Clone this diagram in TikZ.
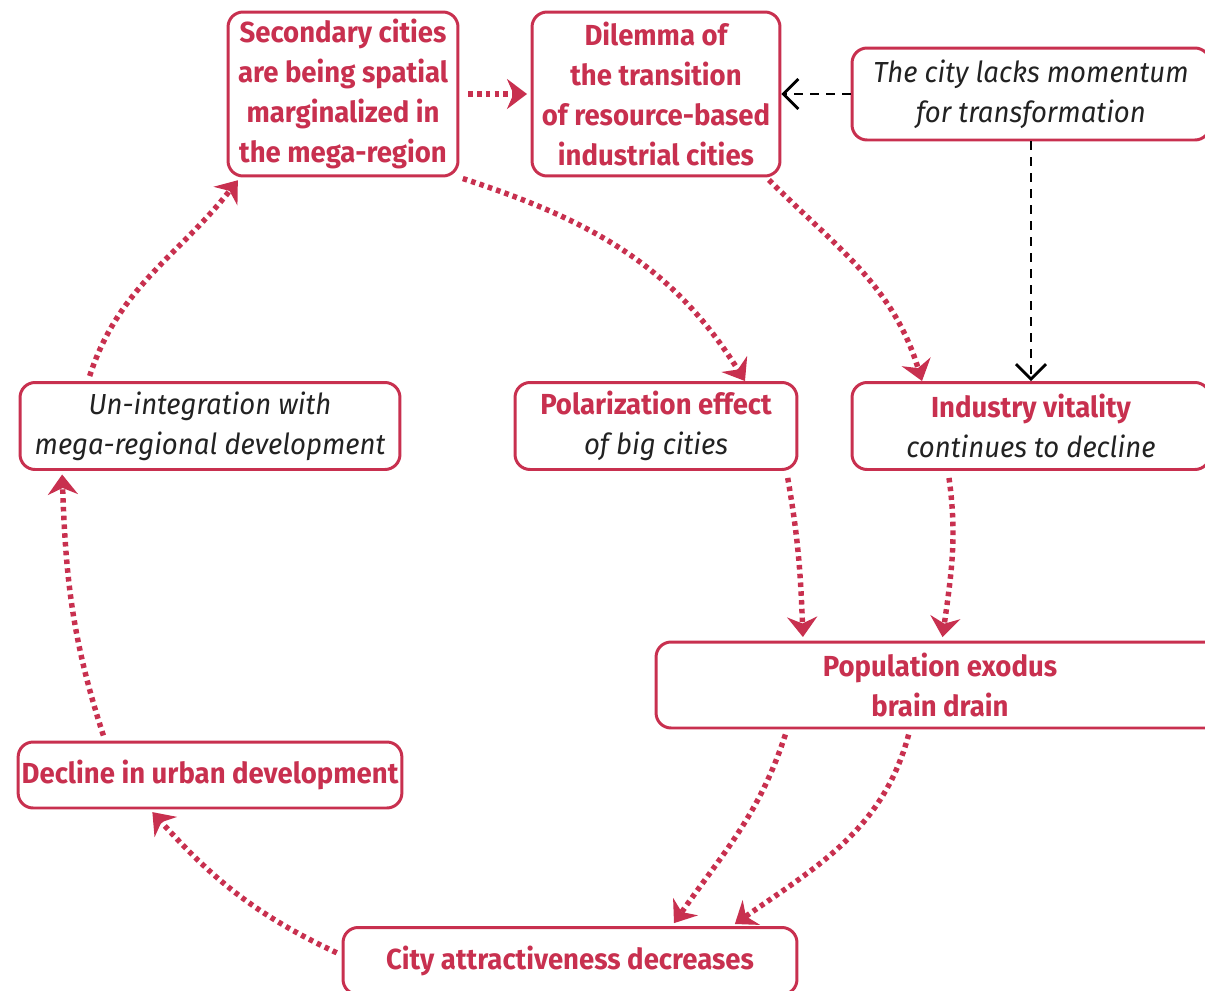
\documentclass[tikz,border=0pt]{standalone}
\usepackage{fontspec}
\setmainfont{Fira Sans}[FakeStretch=0.95]
\usetikzlibrary{arrows.meta}
\definecolor{crimson}{HTML}{C8304F}
\definecolor{inkgray}{HTML}{222222}

\begin{document}
\begin{tikzpicture}[x=0.02cm, y=0.02cm,
  cycbox/.style={draw=crimson, line width=1.7pt, rounded corners=0.3cm,
    fill=white, align=center, inner sep=2pt,
    font=\fontsize{16.5}{22.7}\selectfont},
  hot/.style={text=crimson, font=\fontsize{16.5}{22.7}\selectfont\bfseries},
  soft/.style={text=inkgray, font=\fontsize{16.5}{22.7}\selectfont\itshape},
  cause/.style={crimson, line width=3.1pt, dash pattern=on 2.6pt off 2.4pt,
    -{Stealth[length=4mm, width=6mm, inset=1.3mm]}},
  lack/.style={black, line width=1.4pt, dash pattern=on 0.18cm off 0.14cm,
    -{Straight Barb[length=3mm, width=6mm, line width=1.6pt]}}]

% Frame
\useasboundingbox (0,0) rectangle (1205,-991);

% Top row
\node[cycbox, hot, minimum width=4.6cm, minimum height=3.28cm] (sec) at (343,-94)
  {Secondary cities\\are being spatial\\marginalized in\\the mega-region};
\node[cycbox, hot, minimum width=4.96cm, minimum height=3.28cm] (dil) at (656,-94)
  {Dilemma of\\the transition\\of resource-based\\industrial cities};
\node[cycbox, soft, minimum width=7.16cm, minimum height=1.84cm] (momentum) at (1031,-94)
  {The city lacks momentum\\for transformation};

% Middle row
\node[cycbox, soft, minimum width=7.6cm, minimum height=1.74cm] (unint) at (210,-426)
  {Un-integration with\\mega-regional development};
\node[cycbox, minimum width=5.64cm, minimum height=1.74cm] (polar) at (656,-426)
  {\textcolor{crimson}{\bfseries Polarization effect}\\\textcolor{inkgray}{\itshape of big cities}};
\node[cycbox, minimum width=7.16cm, minimum height=1.74cm] (indus) at (1031,-426)
  {\textcolor{crimson}{\bfseries Industry vitality}\\\textcolor{inkgray}{\itshape continues to decline}};

% Lower part
\node[cycbox, hot, minimum width=11.36cm, minimum height=1.72cm] (pop) at (940,-685)
  {Population exodus\\brain drain};
\node[cycbox, hot, minimum width=7.6cm, minimum height=1.32cm] (decl) at (210,-775)
  {Decline in urban development};
\node[cycbox, hot, minimum width=9.08cm, minimum height=1.34cm] (attr) at (570,-961)
  {City attractiveness decreases};

% --- Dotted causal links ---
\draw[cause, shorten <=5pt, shorten >=2pt] (sec.east) -- (dil.west);
\draw[cause, shorten <=2pt] (sec.south east) to[out=-18, in=122] ([xshift=1.78cm]polar.north);
\draw[cause, shorten <=2pt] ([xshift=-0.3cm]dil.south east) to[out=-45, in=107] ([xshift=-2.18cm]indus.north);
\draw[cause, shorten <=4pt, shorten >=2pt] ([xshift=-0.24cm]polar.south east) to[out=-80, in=92] ([xshift=-2.74cm]pop.north);
\draw[cause, shorten <=4pt, shorten >=2pt] ([xshift=-1.66cm]indus.south) to[out=-82, in=82] ([xshift=0.04cm]pop.north);
\draw[cause, shorten <=3pt, shorten >=2pt] ([xshift=-3.06cm]pop.south) to[out=-108, in=55] ([xshift=2.04cm]attr.north);
\draw[cause, shorten <=3pt, shorten >=2pt] ([xshift=-0.6cm]pop.south) to[out=-105, in=35] ([xshift=3.24cm]attr.north);
\draw[cause, shorten <=3pt, shorten >=2pt] ([yshift=0.12cm]attr.west) to[out=155, in=-48] ([xshift=-1.2cm]decl.south);
\draw[cause, shorten <=3pt, shorten >=2pt] ([xshift=-2.1cm]decl.north) to[out=108, in=-88] ([xshift=-2.96cm]unint.south);
\draw[cause, shorten <=3pt, shorten >=2pt] ([xshift=-2.44cm]unint.north) to[out=72, in=-128] ([xshift=-2.06cm]sec.south);

% --- Missing momentum ---
\draw[lack] (momentum.west) -- (dil.east);
\draw[lack] (momentum.south) -- (indus.north);

\end{tikzpicture}
\end{document}
